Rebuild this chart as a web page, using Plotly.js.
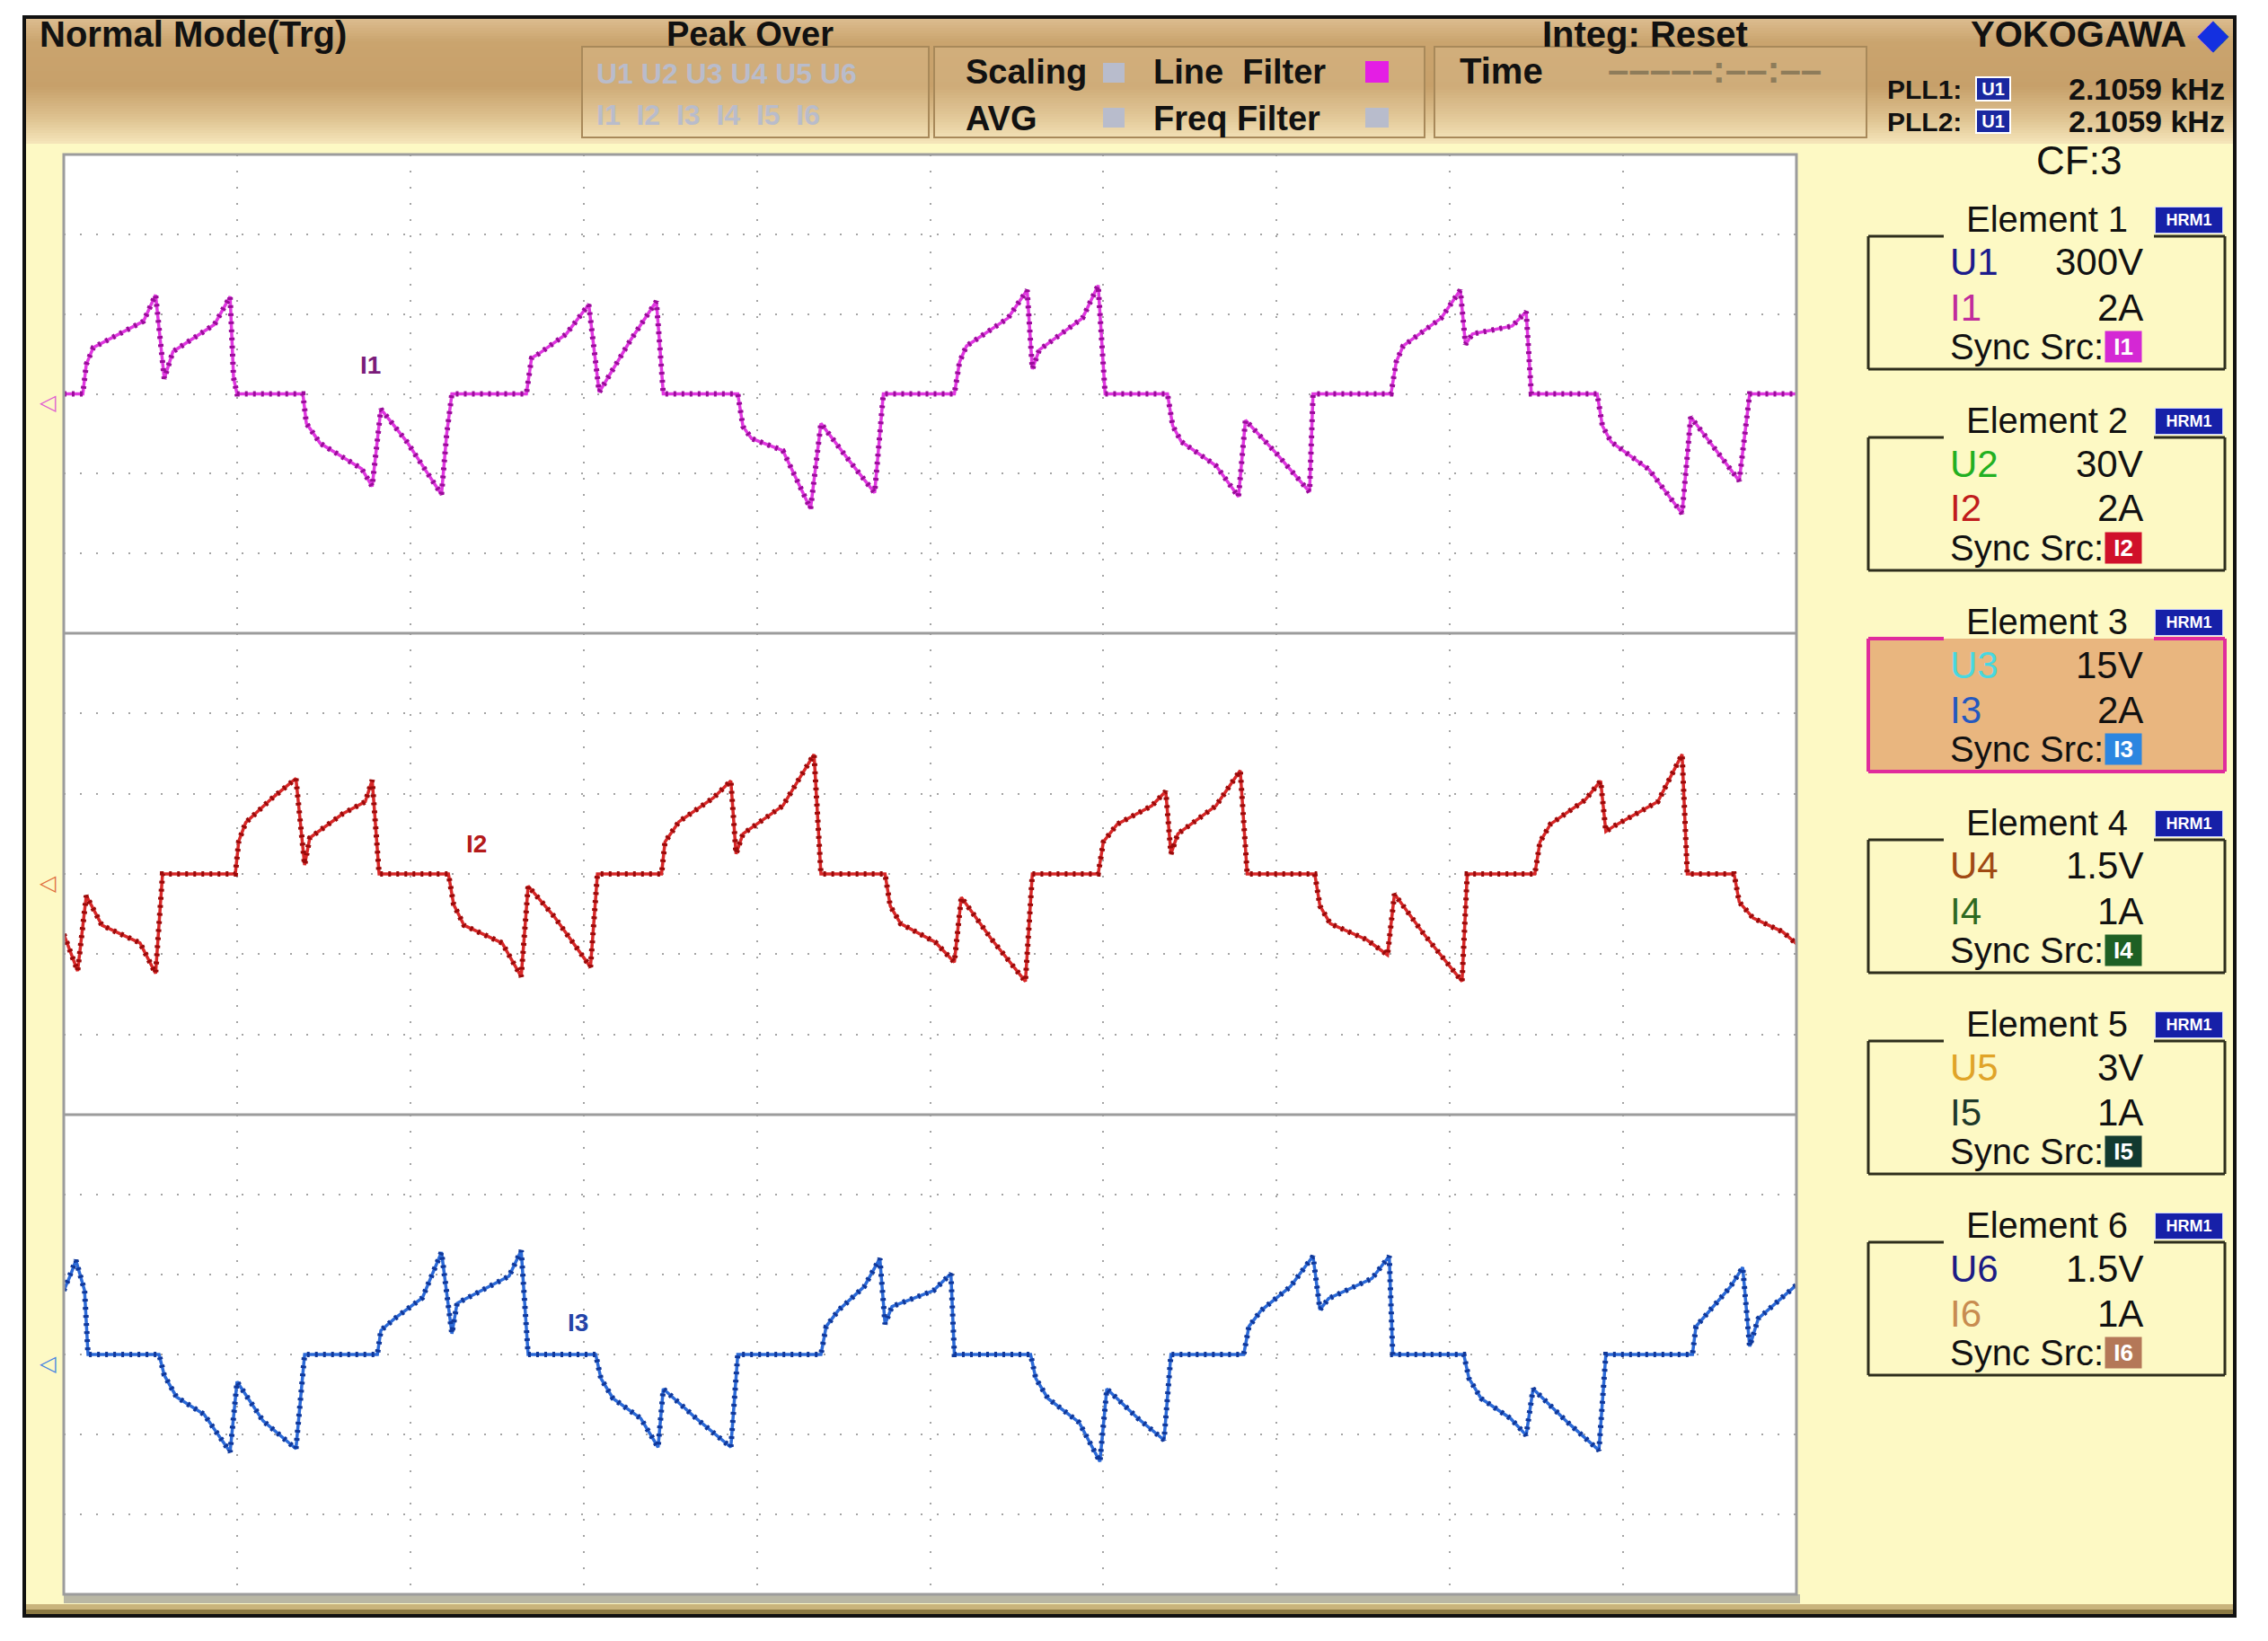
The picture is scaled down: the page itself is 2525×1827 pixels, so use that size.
<!DOCTYPE html>
<html>
<head>
<meta charset="utf-8">
<script src="https://cdn.plot.ly/plotly-3.0.1.min.js"></script>
<style>
  html, body { margin: 0; padding: 0; background: #ffffff; }
  #scope { width: 2525px; height: 1827px; }
</style>
</head>
<body>
<div id="scope"></div>
<script>
// Current waveforms.
// x in horizontal divisions (0..10), y in vertical divisions (-3..3, 0 = trace level)
const i1X = [0, 0.11, 0.13, 0.17, 0.46, 0.53, 0.58, 0.63, 0.87, 0.96, 0.98, 1.00,
  1.38, 1.40, 1.48, 1.61, 1.72, 1.78, 1.83, 1.98, 2.18, 2.21, 2.24,
  2.67, 2.70, 2.74, 2.90, 3.03, 3.09, 3.27, 3.42, 3.44, 3.46,
  3.89, 3.92, 3.97, 4.15, 4.31, 4.37, 4.52, 4.68, 4.71, 4.73,
  5.14, 5.17, 5.21, 5.45, 5.56, 5.59, 5.63, 5.88, 5.97, 6.01,
  6.37, 6.40, 6.45, 6.65, 6.78, 6.82, 7.00, 7.19, 7.21,
  7.66, 7.69, 7.73, 7.95, 8.06, 8.09, 8.13, 8.36, 8.44, 8.47,
  8.85, 8.88, 8.93, 9.15, 9.34, 9.39, 9.55, 9.67, 9.73, 10];
const i1Y = [0, 0, 0.37, 0.58, 0.91, 1.24, 0.19, 0.53, 0.87, 1.22, 0.2, 0,
  0, -0.37, -0.62, -0.79, -0.94, -1.16, -0.19, -0.6, -1.26, -0.5, 0,
  0, 0.45, 0.5, 0.75, 1.12, 0.02, 0.67, 1.16, 0.6, 0,
  0, -0.41, -0.56, -0.71, -1.44, -0.37, -0.8, -1.24, -0.5, 0,
  0, 0.4, 0.6, 0.95, 1.30, 0.31, 0.55, 0.95, 1.36, 0,
  0, -0.4, -0.6, -0.9, -1.29, -0.33, -0.75, -1.23, 0,
  0, 0.4, 0.6, 0.95, 1.30, 0.62, 0.75, 0.85, 1.03, 0,
  0, -0.4, -0.6, -0.95, -1.5, -0.29, -0.75, -1.09, 0, 0];

const i2X = [0, 0.08, 0.13, 0.22, 0.44, 0.53, 0.57,
  0.99, 1.01, 1.05, 1.20, 1.34, 1.39, 1.42, 1.61, 1.74, 1.78, 1.82,
  2.22, 2.25, 2.31, 2.53, 2.64, 2.68, 2.83, 3.04, 3.08,
  3.45, 3.47, 3.55, 3.75, 3.85, 3.88, 3.92, 4.15, 4.33, 4.37,
  4.74, 4.77, 4.83, 5.03, 5.14, 5.18, 5.35, 5.55, 5.59,
  5.97, 6.00, 6.08, 6.28, 6.36, 6.39, 6.43, 6.65, 6.79, 6.83,
  7.22, 7.25, 7.31, 7.52, 7.64, 7.68, 7.85, 8.07, 8.10,
  8.49, 8.52, 8.58, 8.78, 8.87, 8.90, 8.95, 9.20, 9.34, 9.37,
  9.64, 9.67, 9.75, 9.92, 10];
const i2Y = [-0.75, -1.21, -0.27, -0.64, -0.86, -1.24, 0,
  0, 0.41, 0.64, 0.94, 1.19, 0.11, 0.45, 0.75, 0.9, 1.17, 0,
  0, -0.38, -0.64, -0.86, -1.28, -0.15, -0.53, -1.16, 0,
  0, 0.4, 0.65, 0.95, 1.16, 0.25, 0.5, 0.85, 1.49, 0,
  0, -0.4, -0.62, -0.85, -1.1, -0.29, -0.8, -1.34, 0,
  0, 0.4, 0.62, 0.85, 1.03, 0.25, 0.5, 0.85, 1.29, 0,
  0, -0.4, -0.62, -0.82, -1.01, -0.25, -0.75, -1.34, 0,
  0, 0.4, 0.62, 0.92, 1.16, 0.53, 0.6, 0.9, 1.49, 0,
  0, -0.35, -0.55, -0.72, -0.87];

const i3X = [0, 0.04, 0.07, 0.12, 0.14,
  0.55, 0.58, 0.65, 0.81, 0.96, 1.00, 1.15, 1.34, 1.39,
  1.81, 1.83, 1.91, 2.07, 2.18, 2.24, 2.27, 2.57, 2.64, 2.68,
  3.07, 3.10, 3.17, 3.33, 3.43, 3.46, 3.65, 3.85, 3.89,
  4.37, 4.40, 4.47, 4.62, 4.71, 4.74, 4.78, 5.02, 5.12, 5.14,
  5.58, 5.61, 5.68, 5.86, 5.98, 6.02, 6.20, 6.35, 6.39,
  6.81, 6.84, 6.91, 7.08, 7.21, 7.25, 7.30, 7.55, 7.65, 7.67,
  8.08, 8.11, 8.18, 8.35, 8.44, 8.48, 8.68, 8.86, 8.90,
  9.40, 9.42, 9.50, 9.62, 9.69, 9.73, 9.78, 10];
const i3Y = [0.8, 1.0, 1.18, 0.8, 0,
  0, -0.26, -0.53, -0.75, -1.22, -0.34, -0.83, -1.18, 0,
  0, 0.3, 0.45, 0.71, 1.28, 0.26, 0.64, 0.98, 1.3, 0,
  0, -0.3, -0.55, -0.8, -1.16, -0.43, -0.8, -1.16, 0,
  0, 0.35, 0.55, 0.85, 1.2, 0.38, 0.6, 0.8, 1.01, 0,
  0, -0.3, -0.55, -0.85, -1.34, -0.43, -0.8, -1.07, 0,
  0, 0.35, 0.55, 0.85, 1.23, 0.56, 0.7, 0.95, 1.23, 0,
  0, -0.3, -0.55, -0.8, -1.01, -0.43, -0.85, -1.2, 0,
  0, 0.35, 0.55, 0.85, 1.09, 0.1, 0.45, 0.87];

// Trace name tags placed on the screen (division coordinates)
const traceTags = ['I1', 'I2', 'I3'];
const tagX = [1.77, 2.38, 2.97];
const tagY = [0.36, 0.37, 0.40];

// Right-hand element panel
const elemNames = ['Element 1', 'Element 2', 'Element 3', 'Element 4', 'Element 5', 'Element 6'];
const elemU = ['U1', 'U2', 'U3', 'U4', 'U5', 'U6'];
const elemURange = ['300V', '30V', '15V', '1.5V', '3V', '1.5V'];
const elemI = ['I1', 'I2', 'I3', 'I4', 'I5', 'I6'];
const elemIRange = ['2A', '2A', '2A', '1A', '1A', '1A'];

// Header readouts
const pllNames = ['PLL1:', 'PLL2:'];
const pllSrc = ['U1', 'U1'];
const pllFreq = ['2.1059 kHz', '2.1059 kHz'];
const crestFactor = 'CF:3';

// ---- styles ----
const W = 2525, H = 1827;
const FONT = 'Liberation Sans, Arial, sans-serif';
const uColors = ['#1c1c8c', '#22b022', '#48d8e0', '#a04a14', '#e0a428', '#1c1c84'];
const iColors = ['#c02c9c', '#c01c1c', '#2458c0', '#2e6a22', '#1e3a2a', '#c88c50'];
const syncColors = ['#d428d4', '#d0102a', '#2c86e0', '#1e6024', '#123a30', '#b47858'];

const px = X => X / W;
const py = Y => 1 - Y / H;

function rect(x0, y0, x1, y1, fill, line, lw, layer) {
  return {
    type: 'rect', xref: 'paper', yref: 'paper',
    x0: px(x0), x1: px(x1), y0: py(y1), y1: py(y0),
    fillcolor: fill || 'rgba(0,0,0,0)',
    line: { color: line || 'rgba(0,0,0,0)', width: lw || 0 },
    layer: layer || 'below'
  };
}

function seg(x0, y0, x1, y1, color, lw, layer) {
  return {
    type: 'line', xref: 'paper', yref: 'paper',
    x0: px(x0), x1: px(x1), y0: py(y0), y1: py(y1),
    line: { color: color, width: lw }, layer: layer || 'above'
  };
}

function txt(X, Y, text, size, color, xanchor, extra) {
  return Object.assign({
    xref: 'paper', yref: 'paper', x: px(X), y: py(Y), text: text,
    showarrow: false, xanchor: xanchor || 'left', yanchor: 'middle',
    font: { family: FONT, size: size, color: color || '#111111' }
  }, extra || {});
}

function mix(c1, c2, t) {
  const a = parseInt(c1.slice(1), 16), b = parseInt(c2.slice(1), 16);
  const ch = s => Math.round(((a >> s) & 255) * (1 - t) + ((b >> s) & 255) * t);
  return 'rgb(' + ch(16) + ',' + ch(8) + ',' + ch(0) + ')';
}

const shapes = [];
const annotations = [];

// screen background
shapes.push(rect(27, 19, 2488, 1799, '#fdf9c4'));
// header gradient bands
const headStops = [[19, '#dcbd90'], [45, '#caa46e'], [95, '#c7a06a'], [130, '#dec290'], [157, '#f4e4b8']];
for (let y = 19; y < 158; y += 3) {
  let k = 0;
  while (k < headStops.length - 2 && y > headStops[k + 1][0]) k++;
  const t = Math.min(1, (y - headStops[k][0]) / (headStops[k + 1][0] - headStops[k][0]));
  const c = mix(headStops[k][1], headStops[k + 1][1], t);
  shapes.push(rect(27, y, 2488, y + 3, c));
}
// header sub-boxes
shapes.push(rect(648, 52, 1034, 153, 'rgba(255,240,210,0.15)', '#a8895a', 2));
shapes.push(rect(1040, 52, 1586, 153, 'rgba(255,240,210,0.15)', '#a8895a', 2));
shapes.push(rect(1597, 52, 2078, 153, 'rgba(255,240,210,0.15)', '#a8895a', 2));
// indicator squares
shapes.push(rect(1228, 70, 1252, 92, '#b8bccc'));
shapes.push(rect(1228, 120, 1252, 142, '#b8bccc'));
shapes.push(rect(1520, 68, 1546, 92, '#e41ee4'));
shapes.push(rect(1520, 120, 1546, 142, '#b8bccc'));

// waveform area
shapes.push(rect(71, 172, 2000, 1775, '#ffffff'));
shapes.push(rect(71, 1775, 2004, 1785, '#b9b7a4'));
shapes.push(rect(27, 1786, 2488, 1792, '#c9b47c'));
shapes.push(rect(27, 1792, 2488, 1799, '#8c7a44'));
shapes.push(rect(71, 172, 2000, 1775, null, '#9c9c9c', 3, 'above'));
shapes.push(seg(71, 705, 2000, 705, '#9c9c9c', 3));
shapes.push(seg(71, 1241, 2000, 1241, '#9c9c9c', 3));
// outer bezel
shapes.push(rect(27, 19, 2488, 1799, null, '#111111', 4, 'above'));

// header texts
annotations.push(txt(42, 38, '<b>Normal Mode(Trg)</b>', 40));
annotations.push(txt(835, 38, '<b>Peak Over</b>', 38, '#111', 'center'));
annotations.push(txt(662, 82, '<b>U1 U2 U3 U4 U5 U6</b>', 32, '#b9bccb'));
annotations.push(txt(662, 128, '<b>I1\u00a0 I2\u00a0 I3\u00a0 I4\u00a0 I5\u00a0 I6</b>', 32, '#b9bccb'));
annotations.push(txt(1073, 80, '<b>Scaling</b>', 38));
annotations.push(txt(1073, 132, '<b>AVG</b>', 38));
annotations.push(txt(1282, 80, '<b>Line\u00a0 Filter</b>', 38));
annotations.push(txt(1282, 132, '<b>Freq Filter</b>', 38));
annotations.push(txt(1623, 79, '<b>Time</b>', 40));
annotations.push(txt(1715, 38, '<b>Integ: Reset</b>', 40));
annotations.push(txt(1788, 78, '<b>\u2013\u2013\u2013\u2013\u2013:\u2013\u2013:\u2013\u2013</b>', 42, '#8e7c5a'));
annotations.push(txt(2192, 38, '<b>YOKOGAWA</b>', 40));
annotations.push(txt(2464, 37, '\u25c6', 46, '#1430e0', 'center'));
pllNames.forEach((name, k) => {
  const y = 99 + k * 36;
  annotations.push(txt(2099, y, '<b>' + name + '</b>', 30));
  annotations.push(txt(2219, y, '<b>' + pllSrc[k] + '</b>', 20, '#ffffff', 'center',
    { bgcolor: '#1a28a0', bordercolor: '#ffffff', borderwidth: 2, width: 34, height: 22 }));
  annotations.push(txt(2479, y, '<b>' + pllFreq[k] + '</b>', 34, '#111', 'right'));
});
annotations.push(txt(2314, 179, crestFactor, 44, '#111', 'center'));

// element panel
elemNames.forEach((name, k) => {
  const ty = 244 + k * 224;
  const top = ty + 19, bot = ty + 167;
  const edge = k === 2 ? '#e02c9c' : '#2e2e1c';
  const lw = k === 2 ? 4 : 3;
  if (k === 2) shapes.push(rect(2080, top, 2477, bot, '#e9b67f'));
  shapes.push(seg(2080, top, 2080, bot, edge, lw));
  shapes.push(seg(2080, bot, 2477, bot, edge, lw));
  shapes.push(seg(2477, top, 2477, bot, edge, lw));
  shapes.push(seg(2080, top, 2164, top, edge, lw));
  shapes.push(seg(2398, top, 2477, top, edge, lw));
  annotations.push(txt(2279, ty, name, 40, '#111', 'center'));
  annotations.push(txt(2437, ty + 1, '<b>HRM1</b>', 18, '#ffffff', 'center',
    { bgcolor: '#1620a8', bordercolor: '#cdd4ff', borderwidth: 1, width: 72, height: 26 }));
  annotations.push(txt(2169, ty + 48, elemU[k], 42, uColors[k]));
  annotations.push(txt(2388, ty + 48, elemURange[k], 42, '#111', 'right'));
  annotations.push(txt(2169, ty + 98, elemI[k], 42, iColors[k]));
  annotations.push(txt(2388, ty + 98, elemIRange[k], 42, '#111', 'right'));
  annotations.push(txt(2169, ty + 142, 'Sync Src:', 40, '#111'));
  annotations.push(txt(2364, ty + 142, '<b>' + elemI[k] + '</b>', 26, '#ffffff', 'center',
    { bgcolor: syncColors[k], width: 38, height: 32 }));
});

// trace level markers at the left edge
const markColors = ['#e060d0', '#e07040', '#4a86e0'];
[448, 982, 1517].forEach((y, k) => {
  annotations.push(txt(53, y, '\u25c1', 24, markColors[k], 'center'));
});

// trace tags on the waveform area
const tagColors = ['#7a1c7a', '#b41a1a', '#2444a8'];
const yRefs = ['y', 'y2', 'y3'];
traceTags.forEach((t, k) => {
  annotations.push({
    xref: 'x', yref: yRefs[k], x: tagX[k], y: tagY[k], text: '<b>' + t + '</b>',
    showarrow: false, xanchor: 'center', yanchor: 'middle',
    font: { family: FONT, size: 28, color: tagColors[k] }
  });
});

// each waveform: line plus a darker beaded overlay (ripple look)
function wave(xs, ys, yaxis, lineColor, beadColor) {
  return [
    { x: xs, y: ys, yaxis: yaxis, type: 'scatter', mode: 'lines',
      line: { color: lineColor, width: 3.5 }, hoverinfo: 'skip' },
    { x: xs, y: ys, yaxis: yaxis, type: 'scatter', mode: 'lines',
      line: { color: beadColor, width: 6, dash: '3px,6px' }, hoverinfo: 'skip' }
  ];
}

const traces = [].concat(
  wave(i1X, i1Y, 'y', '#e038e0', '#9a0c9a'),
  wave(i2X, i2Y, 'y2', '#d82828', '#9a0a0a'),
  wave(i3X, i3Y, 'y3', '#2c6ad8', '#10389a')
);

const gridAxis = {
  range: [-3, 3], dtick: 1, tick0: 0, showgrid: true, gridcolor: '#a4a4a4', gridwidth: 2,
  griddash: '2px,16px', zeroline: false, showticklabels: false, ticks: '', showline: false,
  fixedrange: true, anchor: 'x'
};

const layout = {
  width: W, height: H,
  margin: { l: 0, r: 0, t: 0, b: 0 },
  paper_bgcolor: '#ffffff',
  plot_bgcolor: 'rgba(0,0,0,0)',
  showlegend: false,
  font: { family: FONT },
  xaxis: {
    domain: [px(71), px(2000)], range: [0, 10], dtick: 1, tick0: 0,
    showgrid: true, gridcolor: '#a4a4a4', gridwidth: 2, griddash: '2px,16px',
    zeroline: false, showticklabels: false, ticks: '', showline: false, fixedrange: true
  },
  yaxis: Object.assign({}, gridAxis, { domain: [py(705), py(172)] }),
  yaxis2: Object.assign({}, gridAxis, { domain: [py(1241), py(705)] }),
  yaxis3: Object.assign({}, gridAxis, { domain: [py(1775), py(1241)] }),
  shapes: shapes,
  annotations: annotations
};

Plotly.newPlot('scope', traces, layout, { displayModeBar: false, staticPlot: true });
</script>
</body>
</html>
